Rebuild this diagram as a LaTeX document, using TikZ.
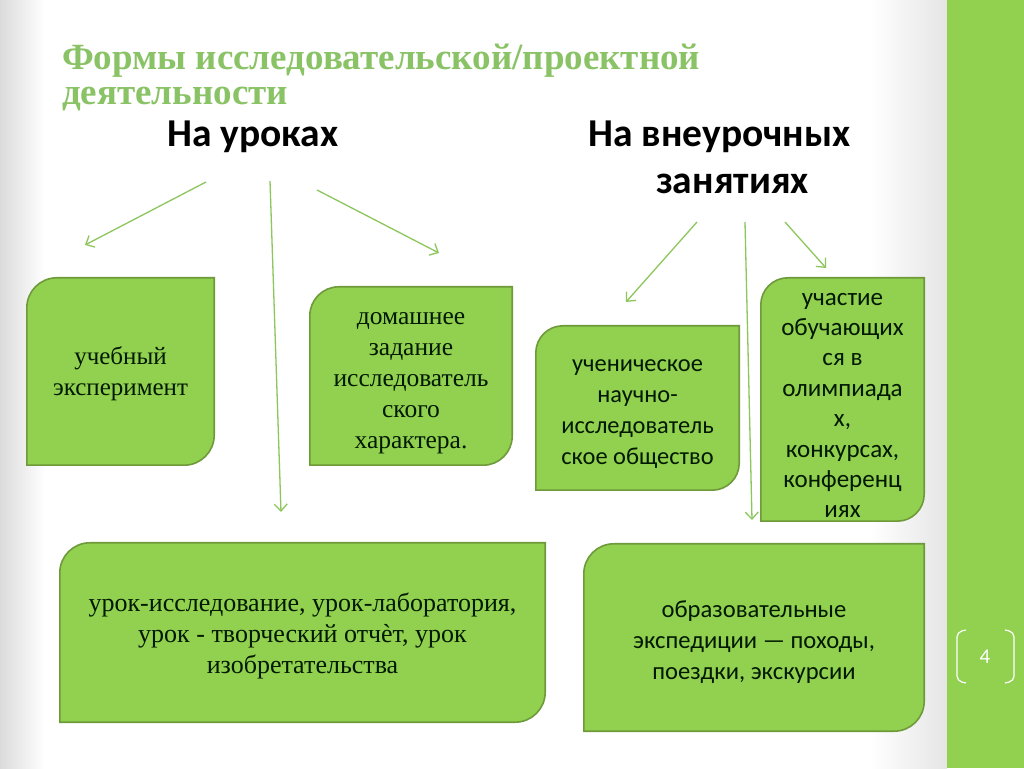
\documentclass[tikz,border=0pt]{standalone}
\usepackage{fontspec}
\setmainfont{Liberation Serif}
\newfontfamily\calib{Carlito}
\usetikzlibrary{arrows.meta,backgrounds}
\definecolor{boxgreen}{HTML}{92D050}
\definecolor{boxedge}{HTML}{6E9A3C}
\definecolor{arrowgreen}{HTML}{8DC65C}
\definecolor{titlegreen}{HTML}{8AC366}
\definecolor{bargreen}{HTML}{92D050}
\newcommand\dgbox[2]{%
  \begin{scope}[on background layer]
    \draw[boxline] (#1.south west) -- ([yshift=-#2]#1.north west)
      arc[start angle=180,end angle=90,radius=#2] -- (#1.north east)
      -- ([yshift=#2]#1.south east)
      arc[start angle=0,end angle=-90,radius=#2] -- cycle;
  \end{scope}}
\tikzset{
  boxline/.style={fill=boxgreen, draw=boxedge, line width=1.6pt},
  boxnode/.style={inner sep=0pt, align=center, text=black!90!green},
  serifbox/.style={boxnode, font=\fontsize{#1}{31}\selectfont},
  sansbox/.style={boxnode, font=\calib\fontsize{#1}{31}\selectfont},
  arr/.style={draw=arrowgreen, line width=1.3pt, -{Straight Barb[length=7pt,width=13pt]}},
  heading/.style={inner sep=0pt, font=\calib\bfseries\fontsize{39.5}{44}\selectfont, text=black},
  titletext/.style={inner sep=0pt, font=\bfseries\fontsize{37}{40}\selectfont, text=titlegreen},
}
\begin{document}
\begin{tikzpicture}[x=1pt,y=1pt]
\useasboundingbox (0,0) rectangle (1024,768);
% page background
\begin{scope}[on background layer]
  \fill[white] (0,0) rectangle (1024,768);
  \shade[left color=black!14, right color=white] (0,0) rectangle (45,768);
  \shade[left color=white, right color=black!10] (870,0) rectangle (947,768);
  \fill[bargreen] (947,0) rectangle (1024,768);
\end{scope}
% title
\node[titletext, anchor=base west] (t1) at (62,698) {Формы исследовательской/проектной};
\node[titletext, anchor=base west] (t2) at (62,663) {деятельности};
% headings
\node[heading, anchor=base west] (h1) at (167,621) {На уроках};
\node[heading, anchor=base] (h2) at (719.5,621) {На внеурочных};
\node[heading, anchor=base] (h2b) at (732.5,574) {занятиях};
% boxes
\node[boxnode, minimum width=187pt, minimum height=187pt] (b1) at (120.5,396.5) {};
\dgbox{b1}{30pt}
\node[serifbox=25] (b1t) at ([yshift=-2pt]b1.center) {учебный\\эксперимент};
\node[boxnode, minimum width=202pt, minimum height=178pt] (b2) at (411,392) {};
\dgbox{b2}{29pt}
\node[serifbox=25.5] (b2t) at ([yshift=-7pt]b2.center) {домашнее\\задание\\исследователь\\ского\\характера.};
\node[boxnode, minimum width=203pt, minimum height=164pt] (b3) at (637.5,360) {};
\dgbox{b3}{27pt}
\node[sansbox=24.4] (b3t) at ([yshift=-6pt]b3.center) {ученическое\\научно-\\исследователь\\ское общество};
\node[boxnode, minimum width=163pt, minimum height=243pt] (b4) at (842.5,368.5) {};
\dgbox{b4}{27pt}
\node[boxnode, font=\calib\fontsize{25}{30.4}\selectfont] (b4t) at ([yshift=-6pt]b4.center) {участие\\обучающих\\ся в\\олимпиада\\х,\\конкурсах,\\конференц\\иях};
\node[boxnode, minimum width=485pt, minimum height=179pt] (b5) at (302.5,135.5) {};
\dgbox{b5}{30pt}
\node[serifbox=26] (b5t) at ([yshift=-3pt]b5.center) {урок-исследование, урок-лаборатория,\\урок - творческий отчѐт, урок\\изобретательства};
\node[boxnode, minimum width=340pt, minimum height=187pt] (b6) at (754,130.5) {};
\dgbox{b6}{30pt}
\node[sansbox=24.6] (b6t) at ([yshift=-5pt]b6.center) {образовательные\\экспедиции — походы,\\поездки, экскурсии};
% arrow ends
\coordinate (a1s) at (206,586); \coordinate (a1e) at (85,523);
\coordinate (a2s) at (270,587); \coordinate (a2e) at (281,256);
\coordinate (a3s) at (317,578); \coordinate (a3e) at (439,515);
\coordinate (c1s) at (697,546); \coordinate (c1e) at (626,466);
\coordinate (c2s) at (745,546); \coordinate (c2e) at (752,248);
\coordinate (c3s) at (785,546); \coordinate (c3e) at (826,500);
\draw[arr] (a1s) -- (a1e);
\draw[arr] (a2s) -- (a2e);
\draw[arr] (a3s) -- (a3e);
\draw[arr] (c1s) -- (c1e);
\draw[arr] (c2s) -- (c2e);
\draw[arr] (c3s) -- (c3e);
% page number
\node[inner sep=0pt, text=white, font=\calib\fontsize{21}{22}\selectfont] (pn) at (985,111) {4};
\draw[white, line width=1.2pt, rounded corners=5pt] (966,138) -- (957,136) -- (957,87) -- (966,85);
\draw[white, line width=1.2pt, rounded corners=5pt] (1005,138) -- (1014,136) -- (1014,87) -- (1005,85);
\end{tikzpicture}
\end{document}
